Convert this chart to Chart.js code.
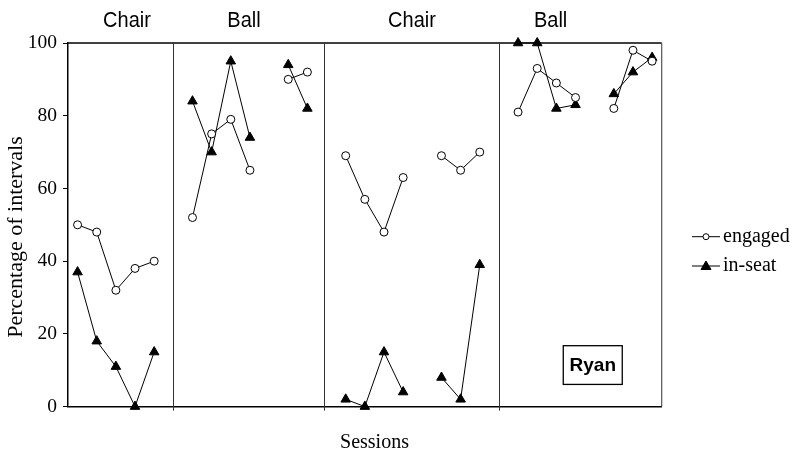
<!DOCTYPE html>
<html>
<head>
<meta charset="utf-8">
<script src="https://cdn.jsdelivr.net/npm/chart.js@4.4.1/dist/chart.umd.min.js"></script>
<style>
  html, body { margin: 0; padding: 0; background: #fff; }
  #chart { display: block; }
</style>
</head>
<body>
<canvas id="chart" width="793" height="453"></canvas>
<script>
// sessions 1..31, nulls are the breaks between runs / phases
const sessions = Array.from({ length: 31 }, (_, i) => i + 1);
const engaged = [50, 48, 32, 38, 40, null, 52, 75, 79, 65, null, 90, 92, null,
  69, 57, 48, 63, null, 69, 65, 70, null, 81, 93, 89, 85, null, 82, 98, 95];
const inSeat = [37, 18, 11, 0, 15, null, 84, 70, 95, 74, null, 94, 82, null,
  2, 0, 15, 4, null, 8, 2, 39, null, 100, 100, 82, 83, null, 86, 92, 96];
const yTicks = [0, 20, 40, 60, 80, 100];

const phaseNames = ['Chair', 'Ball', 'Chair', 'Ball'];
const phaseLines = [6, 13.87, 23];

// where things sit (in axis units)
const phaseLabelX = [3.58, 9.69, 18.46, 25.7];
const ryanBox = { x0: 26.36, x1: 29.44, y0: 6.1, y1: 16.75 };

const serif = '"Liberation Serif", "Times New Roman", serif';
const sans = '"Liberation Sans", Arial, sans-serif';

const toPoints = vals => vals.map((v, i) => ({ x: sessions[i], y: v }));

const overlay = {
  id: 'overlay',
  afterDraw(chart) {
    const { ctx, chartArea: a, scales: { x, y } } = chart;
    ctx.save();

    // top + right frame
    ctx.strokeStyle = '#000';
    ctx.lineWidth = 1.5;
    ctx.beginPath();
    ctx.moveTo(a.left, a.top);
    ctx.lineTo(a.right, a.top);
    ctx.stroke();
    ctx.strokeStyle = '#555';
    ctx.lineWidth = 1.2;
    ctx.beginPath();
    ctx.moveTo(a.right, a.top);
    ctx.lineTo(a.right, a.bottom);
    ctx.stroke();

    // phase change lines
    ctx.strokeStyle = '#333';
    ctx.lineWidth = 1;
    phaseLines.forEach(p => {
      const px = Math.round(x.getPixelForValue(p)) + 0.5;
      ctx.beginPath();
      ctx.moveTo(px, a.top);
      ctx.lineTo(px, a.bottom + 4);
      ctx.stroke();
    });

    // phase names (slightly tall, like the original)
    ctx.fillStyle = '#000';
    ctx.font = '20px ' + sans;
    ctx.textAlign = 'center';
    ctx.textBaseline = 'alphabetic';
    phaseNames.forEach((n, i) => {
      ctx.save();
      ctx.translate(x.getPixelForValue(phaseLabelX[i]), 27);
      ctx.scale(1, 1.12);
      ctx.fillText(n, 0, 0);
      ctx.restore();
    });

    // axis titles
    ctx.font = '20px ' + serif;
    ctx.fillText('Sessions', 374.5, 448);
    ctx.save();
    ctx.translate(22, 237);
    ctx.rotate(-Math.PI / 2);
    ctx.font = '22px ' + serif;
    ctx.fillText('Percentage of intervals', 0, 0);
    ctx.restore();

    // Ryan box
    const bx0 = x.getPixelForValue(ryanBox.x0), bx1 = x.getPixelForValue(ryanBox.x1);
    const by0 = y.getPixelForValue(ryanBox.y1), by1 = y.getPixelForValue(ryanBox.y0);
    ctx.strokeStyle = '#000';
    ctx.lineWidth = 1.3;
    ctx.strokeRect(bx0, by0, bx1 - bx0, by1 - by0);
    ctx.font = 'bold 19px ' + sans;
    ctx.textBaseline = 'middle';
    ctx.fillText('Ryan', (bx0 + bx1) / 2, (by0 + by1) / 2 + 1);

    // legend
    const items = [
      { label: 'engaged', ds: chart.data.datasets[0], yy: 236.7 },
      { label: 'in-seat', ds: chart.data.datasets[1], yy: 266 }
    ];
    ctx.textAlign = 'left';
    ctx.font = '20px ' + serif;
    items.forEach(it => {
      ctx.strokeStyle = '#000';
      ctx.lineWidth = 1;
      ctx.beginPath();
      ctx.moveTo(692, it.yy);
      ctx.lineTo(720, it.yy);
      ctx.stroke();
      ctx.fillStyle = it.ds.pointBackgroundColor;
      ctx.beginPath();
      if (it.ds.pointStyle === 'circle') {
        ctx.arc(706, it.yy, 3, 0, Math.PI * 2);
      } else {
        ctx.moveTo(706, it.yy - 5);
        ctx.lineTo(711, it.yy + 3.5);
        ctx.lineTo(701, it.yy + 3.5);
        ctx.closePath();
      }
      ctx.fill();
      ctx.stroke();
      ctx.fillStyle = '#000';
      ctx.textBaseline = 'middle';
      ctx.fillText(it.label, 723, it.yy);
    });

    ctx.restore();
  }
};

new Chart(document.getElementById('chart'), {
  type: 'line',
  data: {
    datasets: [
      {
        label: 'engaged',
        data: toPoints(engaged),
        borderColor: '#000',
        borderWidth: 1,
        pointStyle: 'circle',
        pointRadius: 4,
        pointBorderWidth: 1,
        pointBackgroundColor: '#fff',
        pointBorderColor: '#000',
        spanGaps: false,
        clip: false
      },
      {
        label: 'in-seat',
        data: toPoints(inSeat),
        borderColor: '#000',
        borderWidth: 1,
        pointStyle: 'triangle',
        pointRadius: 5.5,
        pointBorderWidth: 1,
        pointBackgroundColor: '#000',
        pointBorderColor: '#000',
        spanGaps: false,
        clip: false
      }
    ]
  },
  options: {
    responsive: false,
    devicePixelRatio: 1,
    animation: false,
    layout: { padding: { top: 43, right: 131.3, left: 0, bottom: 0 } },
    plugins: { legend: { display: false }, tooltip: { enabled: false } },
    scales: {
      x: {
        type: 'linear',
        min: 0.5,
        max: 31.5,
        ticks: { display: false },
        grid: { display: false },
        border: { display: true, color: '#000', width: 1.5 },
        afterFit(s) { s.height = 46.4; }
      },
      y: {
        min: 0,
        max: 100,
        afterBuildTicks(s) { s.ticks = yTicks.map(v => ({ value: v })); },
        ticks: {
          color: '#000',
          padding: 6,
          font: { family: serif, size: 19.5 }
        },
        grid: { drawOnChartArea: false, tickLength: 5, color: '#000', lineWidth: 1 },
        border: { display: true, color: '#000', width: 1.5 },
        afterFit(s) { s.width = 68; }
      }
    }
  },
  plugins: [overlay]
});
</script>
</body>
</html>
